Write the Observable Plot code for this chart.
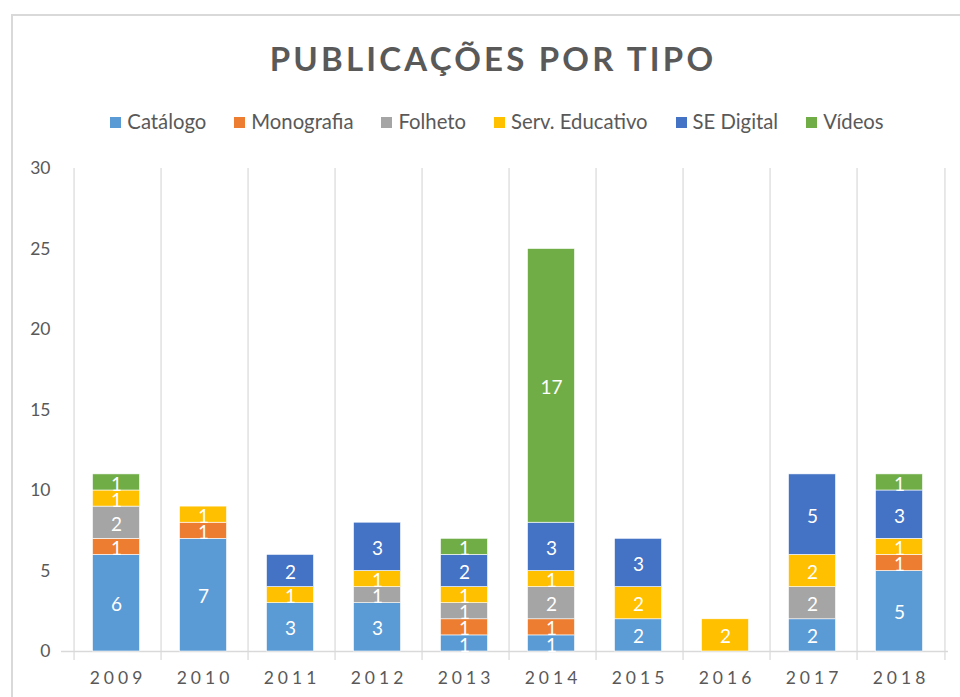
<!DOCTYPE html>
<html><head><meta charset="utf-8">
<script src="https://cdn.jsdelivr.net/npm/d3@7"></script>
<script src="https://cdn.jsdelivr.net/npm/@observablehq/plot@0.6"></script>
<style>
body{margin:0;background:#fff;font-family:Lato,"Liberation Sans",sans-serif;width:960px;height:697px;overflow:hidden;position:relative}
#frame{position:absolute;left:11px;top:14px;width:980px;height:720px;border:2px solid #d9d9d9;box-sizing:border-box}
#title{position:absolute;left:13px;width:960px;top:38px;text-align:center;font-weight:bold;font-size:33px;letter-spacing:3.2px;color:#595959;line-height:40px}
#legend{position:absolute;left:20px;width:954px;top:108px;display:flex;justify-content:center;gap:28px;font-size:20.3px;color:#595959;line-height:26px}
#legend span.sw{display:inline-block;width:11px;height:11px;margin-right:6px;vertical-align:1px}
#chart{position:absolute;left:0;top:150px}
g[aria-label="x-axis tick label"] text{letter-spacing:4px}
</style></head>
<body>
<div id="frame"></div>
<div id="title">PUBLICAÇÕES POR TIPO</div>
<div id="legend"></div>
<div id="chart"></div>
<script>
const years = ["2009","2010","2011","2012","2013","2014","2015","2016","2017","2018"];
const types = ["Catálogo","Monografia","Folheto","Serv. Educativo","SE Digital","Vídeos"];
const colors = ["#5B9BD5","#ED7D31","#A5A5A5","#FFC000","#4472C4","#70AD47"];
const catalogo      = [6,7,3,3,1,1,2,0,2,5];
const monografia    = [1,1,0,0,1,1,0,0,0,1];
const folheto       = [2,0,0,1,1,2,0,0,2,0];
const servEducativo = [1,1,1,1,1,1,2,2,2,1];
const seDigital     = [0,0,2,3,2,3,3,0,5,3];
const videos        = [1,0,0,0,1,17,0,0,0,1];
const yTicks = [0,5,10,15,20,25,30];

const series = [catalogo, monografia, folheto, servEducativo, seDigital, videos];
const data = [];
years.forEach((yr, i) => types.forEach((t, j) => {
  if (series[j][i] > 0) data.push({year: yr, type: t, value: series[j][i]});
}));

const W = 960, H = 547, mL = 69, mR = 12;
const bw = (W - mL - mR) / years.length;

const chart = Plot.plot({
  width: W, height: H,
  marginTop: 18, marginBottom: 46, marginLeft: mL, marginRight: mR,
  style: {fontFamily: "Lato, 'Liberation Sans', sans-serif", fontSize: "17.5px", color: "#595959", background: "transparent"},
  x: {domain: years, padding: 0, label: null, tickSize: 0, tickPadding: 20},
  y: {domain: [0, 30], ticks: yTicks, label: null, tickSize: 0, tickPadding: 19},
  color: {domain: types, range: colors},
  marks: [
    Plot.ruleX(years, {x: d => d, y1: 30, y2: 0, dx: -bw/2, stroke: "#d9d9d9", strokeWidth: 1.2, insetBottom: -9}),
    Plot.ruleX([years[years.length-1]], {x: d => d, y1: 30, y2: 0, dx: bw/2, stroke: "#d9d9d9", strokeWidth: 1.2, insetBottom: -9}),
    Plot.ruleY([0], {stroke: "#d9d9d9", strokeWidth: 1.5, insetLeft: -8}),
    Plot.barY(data, Plot.stackY({x: "year", y: "value", z: "type", fill: "type", order: types, insetLeft: 20, insetRight: 20, dx: -1.5, stroke: "white", strokeWidth: 0.6})),
    Plot.text(data, Plot.stackY({x: "year", y: "value", z: "type", order: types, text: d => String(d.value), fill: "white", fontSize: 19, dx: -1.5, dy: 2}))
  ]
});
document.getElementById("chart").appendChild(chart);

const leg = document.getElementById("legend");
types.forEach((t, j) => {
  const item = document.createElement("div");
  item.innerHTML = `<span class="sw" style="background:${colors[j]}"></span>${t}`;
  leg.appendChild(item);
});
</script>
</body></html>
